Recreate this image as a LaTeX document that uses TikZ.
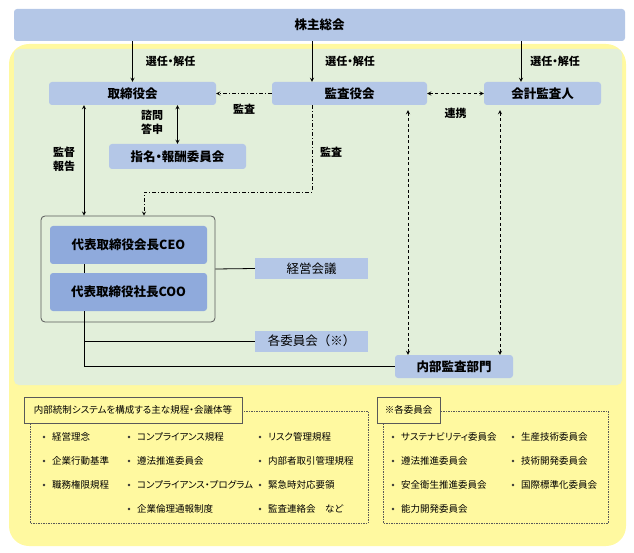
\documentclass[tikz,border=0pt]{standalone}
\usepackage{fontspec}
\setmainfont{Noto Sans CJK JP}[RawFeature=+palt]
\usepackage{xcolor}
\definecolor{lblue}{HTML}{B4C7E7}
\definecolor{dblue}{HTML}{8FAADC}
\definecolor{lgreen}{HTML}{E2EFDA}
\definecolor{lyellow}{HTML}{FFF9A0}
\definecolor{lgray}{HTML}{595959}

\begin{document}
\begin{tikzpicture}[x=1pt,y=-1pt,>=stealth,
    bbox/.style={fill=lblue,rounded corners=3pt,inner sep=0pt,font=\bfseries\fontsize{12.5}{14}\selectfont},
    sbox/.style={fill=lblue,inner sep=0pt,font=\fontsize{12.5}{14}\selectfont},
    lbl/.style={inner sep=0pt,align=center,font=\bfseries\fontsize{11}{14}\selectfont},
    auditline/.style={dash pattern=on 4pt off 2pt on 1pt off 2pt},
    linkline/.style={dash pattern=on 3pt off 2.5pt},
    listframe/.style={draw=lgray,semithick,dash pattern=on 1.5pt off 1pt},
    listhead/.style={draw=lgray,semithick,fill=lyellow,inner sep=0pt,font=\fontsize{9.5}{11}\selectfont},
    dot/.style={circle,fill=black!80,inner sep=0pt,minimum size=2.6pt,xshift=-6.5pt},
    item/.style={anchor=west,inner sep=0pt,font=\fontsize{9.5}{11}\selectfont,label={[dot]left:}}]
  \useasboundingbox (0,0) rectangle (634,553);
  % backgrounds
  \fill[lyellow,rounded corners=20pt] (9,44) rectangle (626,546);
  \fill[lgreen,rounded corners=5pt] (14,49) rectangle (622,385);

  % boxes
  \node[bbox,minimum width=611pt,minimum height=32pt] (share) at (319.5,25) {株主総会};
  \node[bbox,minimum width=167pt,minimum height=23pt] (board) at (132.5,93.5) {取締役会};
  \node[bbox,minimum width=155pt,minimum height=23pt] (auditors) at (349.5,93.5) {監査役会};
  \node[bbox,minimum width=117pt,minimum height=23pt] (accountant) at (542.5,93.5) {会計監査人};
  \node[bbox,minimum width=137pt,minimum height=25pt] (nom) at (177.5,156.5) {指名・報酬委員会};
  \node[draw=lgray,thick,rounded corners=4pt,minimum width=174pt,minimum height=106pt] (grp) at (128,269) {};
  \node[bbox,fill=dblue,minimum width=157pt,minimum height=38pt] (ceo) at (128.5,245) {代表取締役会長CEO};
  \node[bbox,fill=dblue,minimum width=157pt,minimum height=38pt] (coo) at (128.5,292) {代表取締役社長COO};
  \node[sbox,minimum width=113pt,minimum height=21pt] (mgmt) at (311.5,268.5) {経営会議};
  \node[sbox,minimum width=113pt,minimum height=21pt] (comm) at (311.5,341) {\addfontfeature{RawFeature=-palt}各委員会（※）};
  \node[bbox,minimum width=118pt,minimum height=23pt] (intaud) at (454,366.5) {内部監査部門};

  \coordinate (lx) at (84,0);
  \coordinate (ax) at (312,0);
  \coordinate (cx) at (521,0);
  \coordinate (ay) at (144,192);
  \coordinate (dx1) at (408,0);
  \coordinate (dx2) at (500,0);

  % appointment
  \draw [thick,->] (share.south -| board.north) -- node[lbl,right=13pt] {選任・解任} (board.north);
  \draw [thick,->] (share.south -| ax) -- node[lbl,right=13pt] {選任・解任} (auditors.north -| ax);
  \draw [thick,->] (share.south -| cx) -- node[lbl,right=9pt] {選任・解任} (accountant.north -| cx);

  % audit and cooperation
  \draw [thick,->,auditline] (auditors.west) -- node[lbl,below=10pt] {監査} (board.east);
  \draw [thick,<->,linkline] (auditors.east) -- node[lbl,below=14pt] {連携} (accountant.west);
  \draw [thick,->,auditline] (auditors.south -| ax) |- (ay) -- (grp.north -| ay);
  \node[lbl] (audlbl) at (331,152) {監査};
  \draw [thick,<->,linkline,shorten <=5pt] (auditors.south -| dx1) -- (intaud.north -| dx1);
  \draw [thick,<->,linkline,shorten <=5pt] (accountant.south -| dx2) -- (intaud.north -| dx2);

  % board links
  \draw [thick,<->] (board.south -| nom.north) -- (nom.north);
  \node[lbl] (advlbl) at (152,122) {諮問\\答申};
  \draw [thick,<->] (board.south -| lx) -- (grp.north -| lx);
  \node[lbl] (suplbl) at (64,159) {監督\\報告};

  % executive lines
  \draw [thick] (ceo.south -| lx) -- (coo.north -| lx);
  \draw [thick] (grp.east) -- (mgmt.west);
  \draw [thick] (comm.west -| lx) -- (comm.west);
  \draw [thick] (coo.south -| lx) |- (intaud.west);

  % list of rules
  \draw[listframe] (30,411) rectangle (368,523);
  \node[listhead,minimum width=218pt,minimum height=26pt] (rulehead) at (133,410) {内部統制システムを構成する主な規程・会議体等};
  \node[item] (r1) at (52,437) {経営理念};
  \node[item] (r2) at (52,461) {企業行動基準};
  \node[item] (r3) at (52,485) {職務権限規程};
  \node[item] (r4) at (137,437) {コンプライアンス規程};
  \node[item] (r5) at (137,461) {遵法推進委員会};
  \node[item] (r6) at (137,485) {コンプライアンス・プログラム};
  \node[item] (r7) at (137,509) {企業倫理通報制度};
  \node[item] (r8) at (268,437) {リスク管理規程};
  \node[item] (r9) at (268,461) {内部者取引管理規程};
  \node[item] (r10) at (268,485) {緊急時対応要領};
  \node[item] (r11) at (268,509) {監査連絡会　など};

  % list of committees
  \draw[listframe] (383,411) rectangle (608,523);
  \node[listhead,minimum width=63pt,minimum height=26pt] (commhead) at (408.5,410) {※各委員会};
  \node[item] (c1) at (401,437) {サステナビリティ委員会};
  \node[item] (c2) at (401,461) {遵法推進委員会};
  \node[item] (c3) at (401,485) {安全衛生推進委員会};
  \node[item] (c4) at (401,509) {能力開発委員会};
  \node[item] (c5) at (521,437) {生産技術委員会};
  \node[item] (c6) at (521,461) {技術開発委員会};
  \node[item] (c7) at (521,485) {国際標準化委員会};
\end{tikzpicture}
\end{document}
